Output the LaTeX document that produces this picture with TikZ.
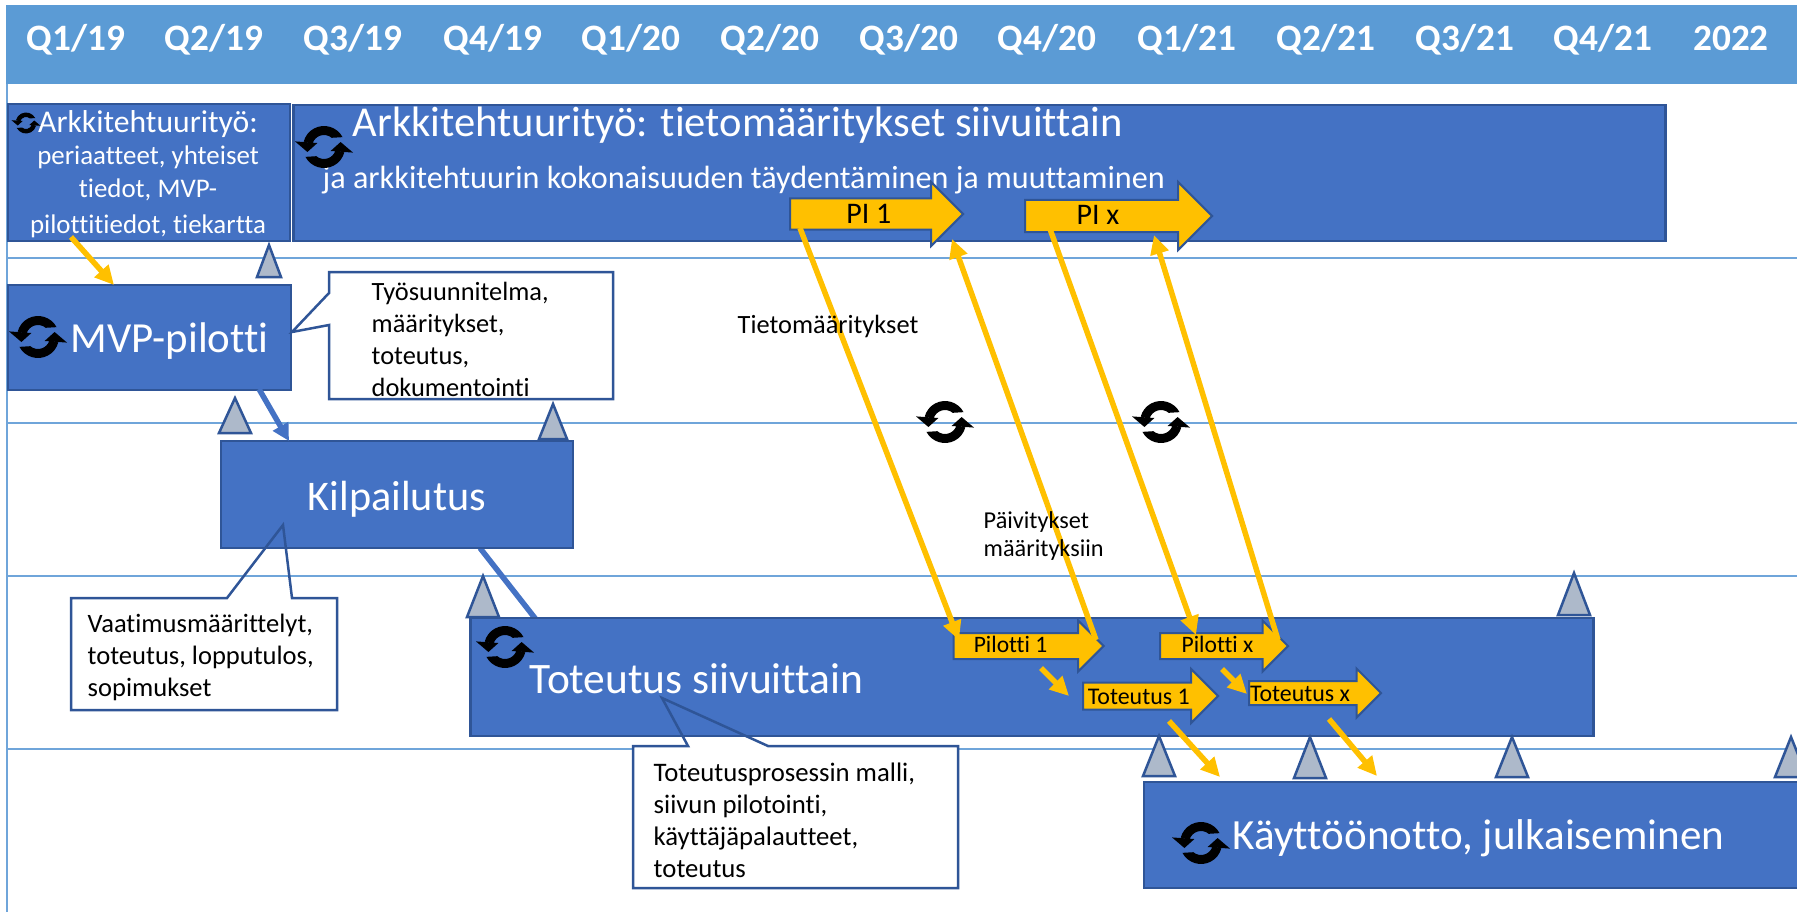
\documentclass[tikz,border=0pt]{standalone}
\usepackage{fontspec}
\setmainfont[Ligatures=NoCommon]{Carlito}
\usepackage{tikz}
\usetikzlibrary{calc,arrows.meta,shapes.arrows}
\definecolor{headerblue}{HTML}{5B9BD5}
\definecolor{boxblue}{HTML}{4472C4}
\definecolor{boxline}{HTML}{2F5597}
\definecolor{gold}{HTML}{FFC000}
\definecolor{milestonegray}{HTML}{ADB9CA}
\definecolor{gridblue}{HTML}{6FA5DA}
\tikzset{
	bluebox/.style={draw=boxline,fill=boxblue,line width=.025cm,inner sep=0pt,text=white},
	whitetext/.style={text=white,inner sep=0pt},
	blacktext/.style={text=black,inner sep=0pt,align=left},
	quarter/.style={text=white,inner sep=0pt,anchor=base,font=\fontsize{10.6}{12}\selectfont\bfseries},
	gridline/.style={draw=gridblue,line width=.012cm},
	milestone/.style={draw=boxline,fill=milestonegray,line width=.025cm},
	calloutbox/.style={draw=boxline,line width=.025cm},
	goldarrow/.style={draw=gold,line width=.055cm,-{Triangle[length=.19cm,width=.18cm]}},
	bluearrow/.style={draw=boxblue,line width=.055cm},
	blockarrow/.style={single arrow,draw=boxline,fill=gold,text=black,line width=.02cm,inner sep=0pt,anchor=tail},
	pics/syncicon/.style={code={
		\fill[black,x=.01cm,y=.01cm] (28:1.05) arc[start angle=28,end angle=165,radius=1.05] -- (165:.6) arc[start angle=165,end angle=50,radius=.6] -- cycle;
		\fill[black,x=.01cm,y=.01cm] (-1.45,.28) -- (-.33,.2) -- (-.83,-.25) -- cycle;
		\fill[black,x=.01cm,y=.01cm] (208:1.05) arc[start angle=208,end angle=345,radius=1.05] -- (345:.6) arc[start angle=345,end angle=230,radius=.6] -- cycle;
		\fill[black,x=.01cm,y=.01cm] (1.45,-.28) -- (.33,-.2) -- (.83,.25) -- cycle;
	}}
}
\begin{document}
\begin{tikzpicture}[x=.01cm,y=-.01cm]
		\useasboundingbox (0,0) rectangle (1797,912);
		\draw[gridline] (7,83) -- (7,912);
		\draw[gridline] (7,258) -- (1797,258);
		\draw[gridline] (7,423) -- (1797,423);
		\draw[gridline] (7,576) -- (1797,576);
		\draw[gridline] (7,749) -- (1797,749);
		\fill[headerblue] (6,5) rectangle (1797,84);
		\node[quarter] (qonea) at (76,50) {Q1/19};
		\node[quarter] (qtwoa) at (214,50) {Q2/19};
		\node[quarter] (qthreea) at (353,50) {Q3/19};
		\node[quarter] (qfoura) at (493,50) {Q4/19};
		\node[quarter] (qoneb) at (631,50) {Q1/20};
		\node[quarter] (qtwob) at (770,50) {Q2/20};
		\node[quarter] (qthreeb) at (909,50) {Q3/20};
		\node[quarter] (qfourb) at (1047,50) {Q4/20};
		\node[quarter] (qonec) at (1187,50) {Q1/21};
		\node[quarter] (qtwoc) at (1326,50) {Q2/21};
		\node[quarter] (qthreec) at (1465,50) {Q3/21};
		\node[quarter] (qfourc) at (1603,50) {Q4/21};
		\node[quarter] (yeartwo) at (1731,50) {2022};
		\draw[bluearrow] (480,548) -- (538,622);
		\node[bluebox,minimum width=2.82cm,minimum height=1.37cm] (archstart) at (149,172.5) {};
		\node[bluebox,minimum width=13.71cm,minimum height=1.36cm] (archpages) at (979.5,173) {};
		\node[bluebox,minimum width=2.83cm,minimum height=1.05cm] (mvp) at (149.5,337.5) {};
		\node[bluebox,minimum width=3.52cm,minimum height=1.07cm] (tender) at (397,494.5) {};
		\node[bluebox,minimum width=11.22cm,minimum height=1.18cm] (build) at (1032,677) {};
		\node[bluebox,minimum width=6.6cm,minimum height=1.06cm] (rollout) at (1474,835) {};
		\node[whitetext,align=center,font=\fontsize{7.65}{9.4}\selectfont] (archstartbody) at (148,192) {periaatteet, yhteiset\\tiedot, MVP-\\[.03cm]pilottitiedot, tiekartta};
		\node[whitetext,font=\fontsize{9}{10}\selectfont] (archstarttitle) at (148,124) {Arkkitehtuurityö:};
		\node[whitetext,anchor=west,font=\fontsize{12.1}{14}\selectfont] (archtitle) at (352,125) {Arkkitehtuurityö: tietomääritykset siivuittain};
		\node[whitetext,anchor=west,font=\fontsize{9.15}{10}\selectfont] (archsub) at (322,180) {ja arkkitehtuurin kokonaisuuden täydentäminen ja muuttaminen};
		\node[whitetext,anchor=west,font=\fontsize{12.2}{14}\selectfont] (mvplabel) at (70,341) {MVP-pilotti};
		\node[whitetext,font=\fontsize{12}{14}\selectfont] (tenderlabel) at (397,499) {Kilpailutus};
		\node[whitetext,anchor=west,font=\fontsize{12.35}{14}\selectfont] (buildlabel) at (529,679) {Toteutus siivuittain};
		\node[whitetext,anchor=west,font=\fontsize{12.25}{14}\selectfont] (rolloutlabel) at (1232,838) {Käyttöönotto, julkaiseminen};
		\filldraw[milestone] (269,245) -- (281,277) -- (257,277) -- cycle;
		\filldraw[milestone] (235,398) -- (251,433) -- (219,433) -- cycle;
		\filldraw[milestone] (553,404) -- (567,439) -- (539,439) -- cycle;
		\filldraw[milestone] (483,576) -- (499,617) -- (467,617) -- cycle;
		\filldraw[milestone] (1574,573) -- (1590,615) -- (1558,615) -- cycle;
		\filldraw[milestone] (1159,736) -- (1175,776) -- (1143,776) -- cycle;
		\filldraw[milestone] (1310,737) -- (1326,778) -- (1294,778) -- cycle;
		\filldraw[milestone] (1512,737) -- (1528,777) -- (1496,777) -- cycle;
		\filldraw[milestone] (1791,737) -- (1807,777) -- (1775,777) -- cycle;
		\fill[white] (329,272) rectangle (613,399);
		\fill[white] (71,598) rectangle (337,710);
		\fill[white] (633,746) rectangle (958,888);
		\draw[calloutbox] (329,272) -- (613,272) -- (613,399) -- (329,399) -- (329,325) -- (292,332) -- (329,293) -- cycle;
		\draw[calloutbox] (71,598) -- (227,598) -- (283,525) -- (292,598) -- (337,598) -- (337,710) -- (71,710) -- cycle;
		\draw[calloutbox] (633,746) -- (688,746) -- (662,698) -- (768,746) -- (958,746) -- (958,888) -- (633,888) -- cycle;
		\node[blacktext,anchor=west,font=\fontsize{7.5}{9.1}\selectfont] (worklabel) at (371,339.5) {Työsuunnitelma,\\määritykset,\\toteutus,\\dokumentointi};
		\node[blacktext,anchor=west,font=\fontsize{7.55}{9.1}\selectfont] (reqlabel) at (87,657) {Vaatimusmäärittelyt,\\toteutus, lopputulos,\\sopimukset};
		\node[blacktext,anchor=west,font=\fontsize{7.6}{9.1}\selectfont] (processlabel) at (653,820) {Toteutusprosessin malli,\\siivun pilotointi,\\käyttäjäpalautteet,\\toteutus};
		\node[blockarrow,minimum height=1.73cm,text height=.24cm,text depth=.05cm,single arrow head extend=.165cm,font=\fontsize{8.5}{10}\selectfont] (pione) at (789,214) {PI 1};
		\node[blockarrow,minimum height=1.87cm,text height=.23cm,text depth=.07cm,single arrow head extend=.18cm,font=\fontsize{8.5}{10}\selectfont] (pix) at (1024,216) {PI x\hspace*{.25cm}};
		\node[blockarrow,minimum height=1.5cm,text height=.185cm,text depth=.055cm,single arrow head extend=.125cm,font=\fontsize{6.7}{8}\selectfont] (pilotone) at (952.5,646) {Pilotti 1\hspace*{.23cm}};
		\node[blockarrow,minimum height=1.28cm,text height=.185cm,text depth=.055cm,single arrow head extend=.125cm,font=\fontsize{6.7}{8}\selectfont] (pilotx) at (1159,646) {Pilotti x};
		\node[blockarrow,minimum height=1.35cm,text height=.21cm,text depth=.04cm,single arrow head extend=.135cm,font=\fontsize{6.8}{8}\selectfont] (buildone) at (1082,696) {Toteutus 1\hspace*{.1cm}};
		\node[blockarrow,minimum height=1.26cm,text height=.19cm,text depth=.03cm,single arrow head extend=.125cm,font=\fontsize{6.8}{8}\selectfont] (buildx) at (1248,693) {Toteutus x\hspace*{.18cm}};
		\coordinate (archstartout) at (71,237);
		\coordinate (mvpin) at (114,285);
		\coordinate (mvpout) at (259,389);
		\coordinate (tenderin) at (289,441);
		\coordinate (pioneout) at (800,228);
		\coordinate (pilotonein) at (959,640);
		\coordinate (pilotoneout) at (1096,640);
		\coordinate (pionein) at (952,239);
		\coordinate (pixout) at (1050,229);
		\coordinate (pilotxin) at (1196,635);
		\coordinate (pilotxout) at (1278,640);
		\coordinate (pixin) at (1154,235);
		\coordinate (pilotonedown) at (1041,668);
		\coordinate (buildonein) at (1069,696);
		\coordinate (pilotxdown) at (1222,669);
		\coordinate (buildxin) at (1247,694);
		\coordinate (buildoneout) at (1169,721);
		\coordinate (rolloutone) at (1220,777);
		\coordinate (buildxout) at (1329,719);
		\coordinate (rolloutx) at (1377,776);
		\draw[goldarrow] (archstartout) -- (mvpin);
		\draw[bluearrow,-{Triangle[length=.17cm,width=.17cm]}] (mvpout) -- (tenderin);
		\draw[goldarrow] (pioneout) -- (pilotonein);
		\draw[goldarrow] (pilotoneout) -- (pionein);
		\draw[goldarrow] (pixout) -- (pilotxin);
		\draw[goldarrow] (pilotxout) -- (pixin);
		\draw[goldarrow] (pilotonedown) -- (buildonein);
		\draw[goldarrow] (pilotxdown) -- (buildxin);
		\draw[goldarrow] (buildoneout) -- (rolloutone);
		\draw[goldarrow] (buildxout) -- (rolloutx);
		\node[blacktext,anchor=west,font=\fontsize{7.5}{9}\selectfont] (speclabel) at (737,326) {Tietomääritykset};
		\node[blacktext,anchor=west,font=\fontsize{6.9}{8.1}\selectfont] (updatelabel) at (983,536) {Päivitykset\\määrityksiin};
		\pic[scale=10] at (26,123) {syncicon};
		\pic[scale=20] at (324,147) {syncicon};
		\pic[scale=20] at (38,337) {syncicon};
		\pic[scale=20] at (945,422) {syncicon};
		\pic[scale=20] at (1161,422) {syncicon};
		\pic[scale=20] at (505,647) {syncicon};
		\pic[scale=20] at (1201,843) {syncicon};
		\end{tikzpicture}
\end{document}
